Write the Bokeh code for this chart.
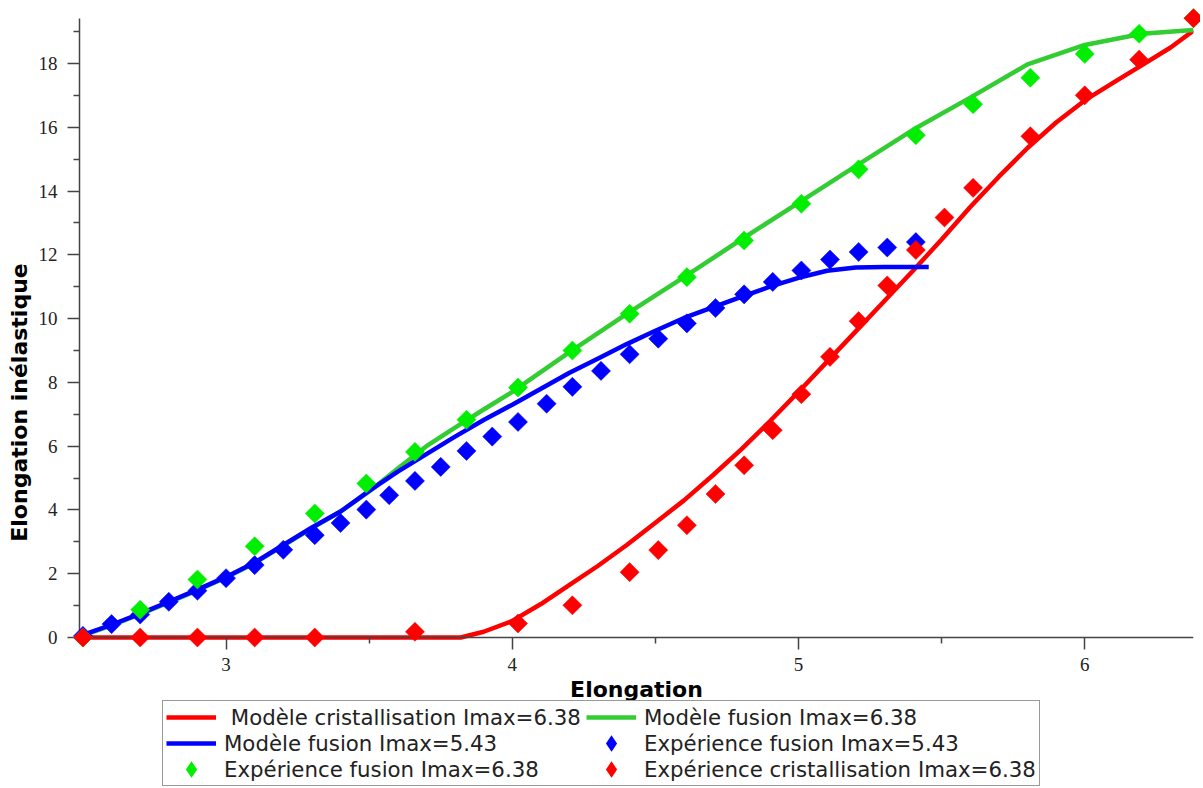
import numpy as np
from bokeh.plotting import figure
from bokeh.models import Range1d, FixedTicker, Legend, LegendItem, LinearAxis
from bokeh.embed import file_html
from bokeh.resources import INLINE

# ---------------- data ----------------
# Modèle cristallisation Imax=6.38 (red line)
cris_model_x = [2.49, 3.82, 3.9, 4.0, 4.1, 4.2, 4.3, 4.4, 4.5, 4.6, 4.7, 4.8, 4.9, 5.0, 5.1, 5.2, 5.3,
                5.4, 5.5, 5.6, 5.7, 5.8, 5.9, 6.0, 6.1, 6.2, 6.3, 6.38]
cris_model_y = [0.0, 0.0, 0.18, 0.52, 1.05, 1.65, 2.25, 2.9, 3.6, 4.3, 5.08, 5.9, 6.78, 7.7, 8.65, 9.6, 10.55,
                11.5, 12.48, 13.5, 14.45, 15.35, 16.15, 16.84, 17.4, 17.95, 18.5, 19.03]

# Modèle fusion Imax=6.38 (green line)
fus638_model_x = [2.49, 2.6, 2.7, 2.8, 2.9, 3.0, 3.1, 3.2, 3.3, 3.4, 3.5, 3.6, 3.7, 3.8, 3.9, 4.0,
                  4.2, 4.4, 4.6, 4.8, 5.0, 5.2, 5.4, 5.6, 5.8, 6.0, 6.2, 6.38]
fus638_model_y = [0.03, 0.38, 0.73, 1.1, 1.48, 1.88, 2.33, 2.88, 3.43, 3.95, 4.58, 5.3, 6.0, 6.58, 7.15, 7.7,
                  8.95, 10.15, 11.3, 12.48, 13.63, 14.78, 15.92, 16.93, 17.97, 18.58, 18.93, 19.05]

# Modèle fusion Imax=5.43 (blue line)
fus543_model_x = [2.49, 2.6, 2.7, 2.8, 2.9, 3.0, 3.1, 3.2, 3.3, 3.4, 3.5, 3.6, 3.7, 3.8, 3.9, 4.0,
                  4.1, 4.2, 4.3, 4.4, 4.5, 4.6, 4.7, 4.8, 4.9, 5.0, 5.1, 5.2, 5.3, 5.455]
fus543_model_y = [0.05, 0.4, 0.75, 1.12, 1.5, 1.9, 2.35, 2.9, 3.45, 3.95, 4.6, 5.2, 5.75, 6.3, 6.82, 7.3,
                  7.8, 8.3, 8.75, 9.2, 9.62, 10.02, 10.35, 10.68, 11.0, 11.28, 11.5, 11.6, 11.62, 11.62]

# Expérience fusion Imax=5.43 (blue diamonds)
exp543_x = [2.5, 2.6, 2.7, 2.8, 2.9, 3.0, 3.1, 3.2, 3.31, 3.4, 3.49, 3.57, 3.66, 3.75, 3.84, 3.93,
            4.02, 4.12, 4.21, 4.31, 4.41, 4.51, 4.61, 4.71, 4.81, 4.91, 5.01, 5.11, 5.21, 5.31, 5.41]
exp543_y = [0.05, 0.42, 0.72, 1.12, 1.47, 1.86, 2.27, 2.75, 3.21, 3.59, 4.01, 4.46, 4.91, 5.35, 5.85, 6.3,
            6.76, 7.33, 7.86, 8.36, 8.88, 9.37, 9.85, 10.33, 10.76, 11.15, 11.51, 11.85, 12.09, 12.23, 12.4]

# Expérience fusion Imax=6.38 (green diamonds)
exp638f_x = [2.5, 2.7, 2.9, 3.1, 3.31, 3.49, 3.66, 3.84, 4.02, 4.21, 4.41, 4.61, 4.81, 5.01, 5.21,
             5.41, 5.61, 5.81, 6.0, 6.19, 6.38]
exp638f_y = [0.0, 0.87, 1.82, 2.86, 3.89, 4.83, 5.82, 6.83, 7.84, 9.0, 10.15, 11.3, 12.45, 13.6, 14.68,
             15.75, 16.72, 17.55, 18.3, 18.93, 19.42]

# Expérience cristallisation Imax=6.38 (red diamonds)
exp638c_x = [2.5, 2.7, 2.9, 3.1, 3.31, 3.66, 4.02, 4.21, 4.41, 4.51, 4.61, 4.71, 4.81, 4.91, 5.01,
             5.11, 5.21, 5.31, 5.41, 5.51, 5.61, 5.81, 6.0, 6.19, 6.38]
exp638c_y = [0.0, 0.0, 0.0, 0.0, 0.0, 0.18, 0.44, 1.01, 2.05, 2.74, 3.52, 4.5, 5.4, 6.5, 7.63,
             8.8, 9.92, 11.04, 12.15, 13.17, 14.1, 15.72, 17.0, 18.12, 19.42]

x_ticks = [3, 4, 5, 6]
x_minor = [3.5, 4.5, 5.5]
y_ticks = [0, 2, 4, 6, 8, 10, 12, 14, 16, 18]
y_minor = [1, 3, 5, 7, 9, 11, 13, 15, 17, 19]

labels = [" Modèle cristallisation Imax=6.38", "Modèle fusion Imax=6.38", "Modèle fusion Imax=5.43",
          "Expérience fusion Imax=5.43", "Expérience fusion Imax=6.38", "Expérience cristallisation Imax=6.38"]

Y_TOP = 19.41

RED, GREEN_LINE, GREEN_PT, BLUE = "#FF0000", "#33CC33", "#00EE00", "#0000FF"

# ---------------- figure ----------------
p = figure(width=1200, height=786, x_range=Range1d(2.488, 6.38), y_range=Range1d(-4.672, Y_TOP),
           output_backend="svg", toolbar_location=None, x_axis_location=None,
           min_border_left=79, min_border_right=7, min_border_top=18, min_border_bottom=0)
p.outline_line_color = None
p.xgrid.visible = False
p.ygrid.visible = False
p.background_fill_color = "white"

xaxis = LinearAxis(fixed_location=0)
p.add_layout(xaxis, "below")

r_red = p.line(cris_model_x, cris_model_y, line_color=RED, line_width=4.5)
r_green = p.line(fus638_model_x, fus638_model_y, line_color=GREEN_LINE, line_width=4.5)
r_blue = p.line(fus543_model_x, fus543_model_y, line_color=BLUE, line_width=4.5)

# legend glyphs: small diamonds drawn under (and hidden by) the rotated squares below,
# because legends draw markers without rotation
lk = dict(marker="diamond", size=9, line_width=3.5, line_join="miter")
l_blue = p.scatter(exp543_x, exp543_y, fill_color=BLUE, line_color=BLUE, **lk)
l_green = p.scatter(exp638f_x, exp638f_y, fill_color=GREEN_PT, line_color=GREEN_PT, **lk)
l_red = p.scatter(exp638c_x, exp638c_y, fill_color=RED, line_color=RED, **lk)

mk = dict(marker="square", angle=np.pi / 4, size=13.5, line_width=0.5, level="overlay")
s_blue = p.scatter(exp543_x, exp543_y, fill_color=BLUE, line_color=BLUE, **mk)
s_green = p.scatter(exp638f_x, exp638f_y, fill_color=GREEN_PT, line_color=GREEN_PT, **mk)
s_red = p.scatter(exp638c_x, exp638c_y, fill_color=RED, line_color=RED, **mk)

for ax in (xaxis, p.yaxis[0]):
    ax.axis_line_color = "#444444"
    ax.axis_line_width = 1.5
    ax.major_tick_line_color = "#444444"
    ax.major_tick_line_width = 1.5
    ax.minor_tick_line_color = "#444444"
    ax.minor_tick_line_width = 1.5
    ax.major_tick_in = 0
    ax.major_tick_out = 12
    ax.minor_tick_in = 0
    ax.minor_tick_out = 6
    ax.major_label_text_font = "Liberation Serif"
    ax.major_label_text_font_size = "19px"
    ax.major_label_text_color = "#222222"
    ax.axis_label_text_font = "DejaVu Sans"
    ax.axis_label_text_font_style = "bold"
    ax.axis_label_text_font_size = "22px"
    ax.axis_label_text_color = "#000000"

xaxis.ticker = FixedTicker(ticks=x_ticks, minor_ticks=x_minor)
p.yaxis.ticker = FixedTicker(ticks=y_ticks, minor_ticks=y_minor)
p.yaxis.bounds = (0, Y_TOP)
xaxis.axis_label = "Elongation"
p.yaxis.axis_label = "Elongation inélastique"
xaxis.major_label_standoff = 8
xaxis.axis_label_standoff = 3
p.yaxis.major_label_standoff = 10
p.yaxis.axis_label_standoff = 4

items = [
    LegendItem(label=labels[0], renderers=[r_red]),
    LegendItem(label=labels[2], renderers=[r_blue]),
    LegendItem(label=labels[4], renderers=[l_green]),
    LegendItem(label=labels[1], renderers=[r_green]),
    LegendItem(label=labels[3], renderers=[l_blue]),
    LegendItem(label=labels[5], renderers=[l_red]),
]
legend = Legend(items=items, ncols=2, location=(83, 0), orientation="vertical",
                label_text_font="DejaVu Sans", label_text_font_size="21.3px", label_text_color="#222222",
                glyph_width=50, glyph_height=26, label_height=24, label_width=362, label_standoff=8,
                spacing=0, padding=3, margin=0,
                border_line_color="#333333", border_line_width=1, background_fill_alpha=1.0)
p.add_layout(legend, "center")

open("out.html", "w").write(file_html(p, INLINE))
